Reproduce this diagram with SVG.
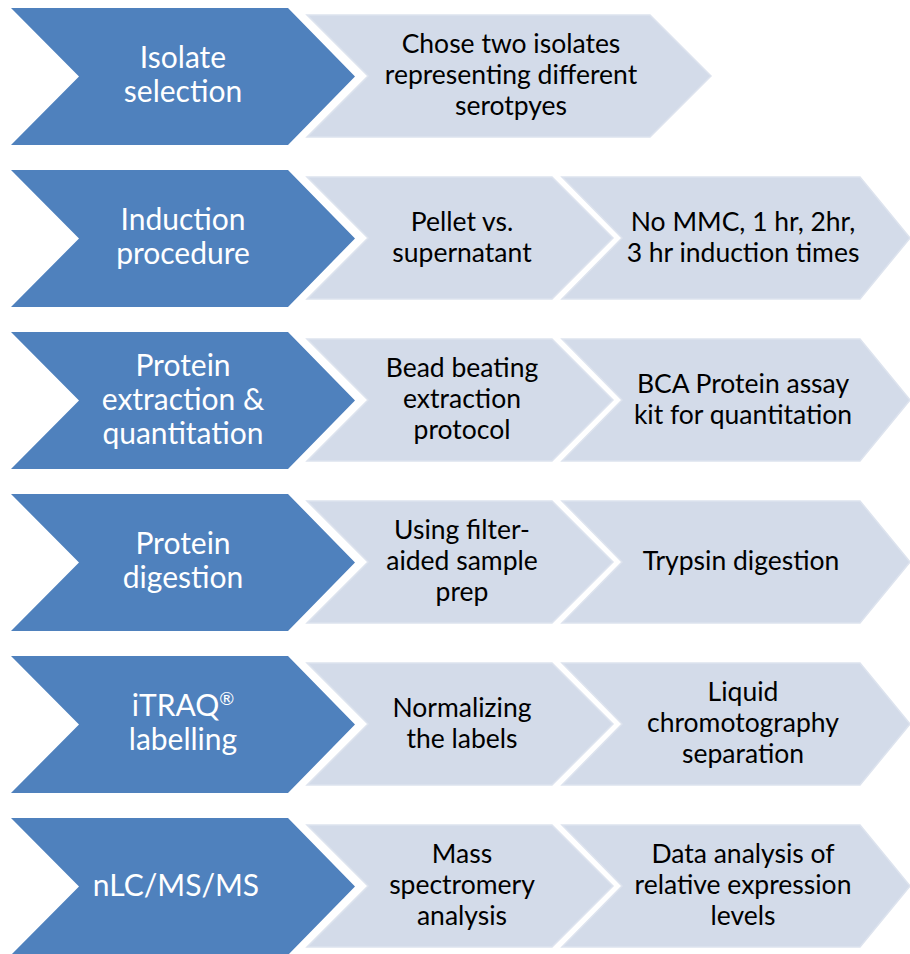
<svg xmlns="http://www.w3.org/2000/svg" width="910" height="954" viewBox="0 0 910 954">
<defs>
<style>
.dk{fill:#4f81bd}
.lt{fill:#d3dbe9;stroke:#dde3ee;stroke-width:1.5}
.tw{font-family:Lato,"Open Sans",sans-serif;font-size:30px;fill:#ffffff;text-anchor:middle}
.tb{font-family:Lato,"Open Sans",sans-serif;font-size:26.5px;fill:#000000;text-anchor:middle}
</style>
<path id="pd" d="M11,8 H288 L355,76.5 L288,145 H11 L79,76.5 Z"/>
<path id="pw" d="M307,15 H650 L711,76 L650,137 H307 L368,76 Z"/>
<path id="p1" d="M307,15 H552 L613,76 L552,137 H307 L368,76 Z"/>
<path id="p2" d="M562,15 H860 L910,76 L860,137 H562 L622,76 Z"/>
</defs>
<rect width="910" height="954" fill="#ffffff"/>

<g id="row1">
<g id="isolate-selection"><use href="#pd" class="dk"/><text class="tw" x="183" y="68">Isolate</text><text class="tw" x="183" y="102">selection</text></g>
<g id="chose-isolates"><use href="#pw" class="lt"/><text class="tb" x="511" y="53">Chose two isolates</text><text class="tb" x="511" y="84">representing different</text><text class="tb" x="511" y="115">serotpyes</text></g>
</g>

<g id="row2" transform="translate(0,162)">
<g id="induction-procedure"><use href="#pd" class="dk"/><text class="tw" x="183" y="68">Induction</text><text class="tw" x="183" y="102">procedure</text></g>
<g id="pellet"><use href="#p1" class="lt"/><text class="tb" x="462" y="68.5">Pellet vs.</text><text class="tb" x="462" y="99.5">supernatant</text></g>
<g id="induction-times"><use href="#p2" class="lt"/><text class="tb" x="743" y="68.5">No MMC, 1 hr, 2hr,</text><text class="tb" x="743" y="99.5">3 hr induction times</text></g>
</g>

<g id="row3" transform="translate(0,324)">
<g id="protein-extraction"><use href="#pd" class="dk"/><text class="tw" x="183" y="51.5">Protein</text><text class="tw" x="183" y="85.5">extraction &amp;</text><text class="tw" x="183" y="119.5">quantitation</text></g>
<g id="bead-beating"><use href="#p1" class="lt"/><text class="tb" x="462" y="53">Bead beating</text><text class="tb" x="462" y="84">extraction</text><text class="tb" x="462" y="115">protocol</text></g>
<g id="bca-assay"><use href="#p2" class="lt"/><text class="tb" x="743" y="68.5">BCA Protein assay</text><text class="tb" x="743" y="99.5">kit for quantitation</text></g>
</g>

<g id="row4" transform="translate(0,486)">
<g id="protein-digestion"><use href="#pd" class="dk"/><text class="tw" x="183" y="68">Protein</text><text class="tw" x="183" y="102">digestion</text></g>
<g id="filter-aided"><use href="#p1" class="lt"/><text class="tb" x="462" y="53">Using filter-</text><text class="tb" x="462" y="84">aided sample</text><text class="tb" x="462" y="115">prep</text></g>
<g id="trypsin"><use href="#p2" class="lt"/><text class="tb" x="741" y="84">Trypsin digestion</text></g>
</g>

<g id="row5" transform="translate(0,648)">
<g id="itraq-labelling"><use href="#pd" class="dk"/><text class="tw" x="183" y="68">iTRAQ<tspan font-size="18" dy="-11">®</tspan></text><text class="tw" x="183" y="102">labelling</text></g>
<g id="normalizing"><use href="#p1" class="lt"/><text class="tb" x="462" y="68.5">Normalizing</text><text class="tb" x="462" y="99.5">the labels</text></g>
<g id="liquid-chrom"><use href="#p2" class="lt"/><text class="tb" x="743" y="53">Liquid</text><text class="tb" x="743" y="84">chromotography</text><text class="tb" x="743" y="115">separation</text></g>
</g>

<g id="row6" transform="translate(0,810)">
<g id="nlc-ms-ms"><use href="#pd" class="dk"/><text class="tw" x="176" y="85.5" font-size="31">nLC/MS/MS</text></g>
<g id="mass-spec"><use href="#p1" class="lt"/><text class="tb" x="462" y="53">Mass</text><text class="tb" x="462" y="84">spectromery</text><text class="tb" x="462" y="115">analysis</text></g>
<g id="data-analysis"><use href="#p2" class="lt"/><text class="tb" x="743" y="53">Data analysis of</text><text class="tb" x="743" y="84">relative expression</text><text class="tb" x="743" y="115">levels</text></g>
</g>
</svg>
